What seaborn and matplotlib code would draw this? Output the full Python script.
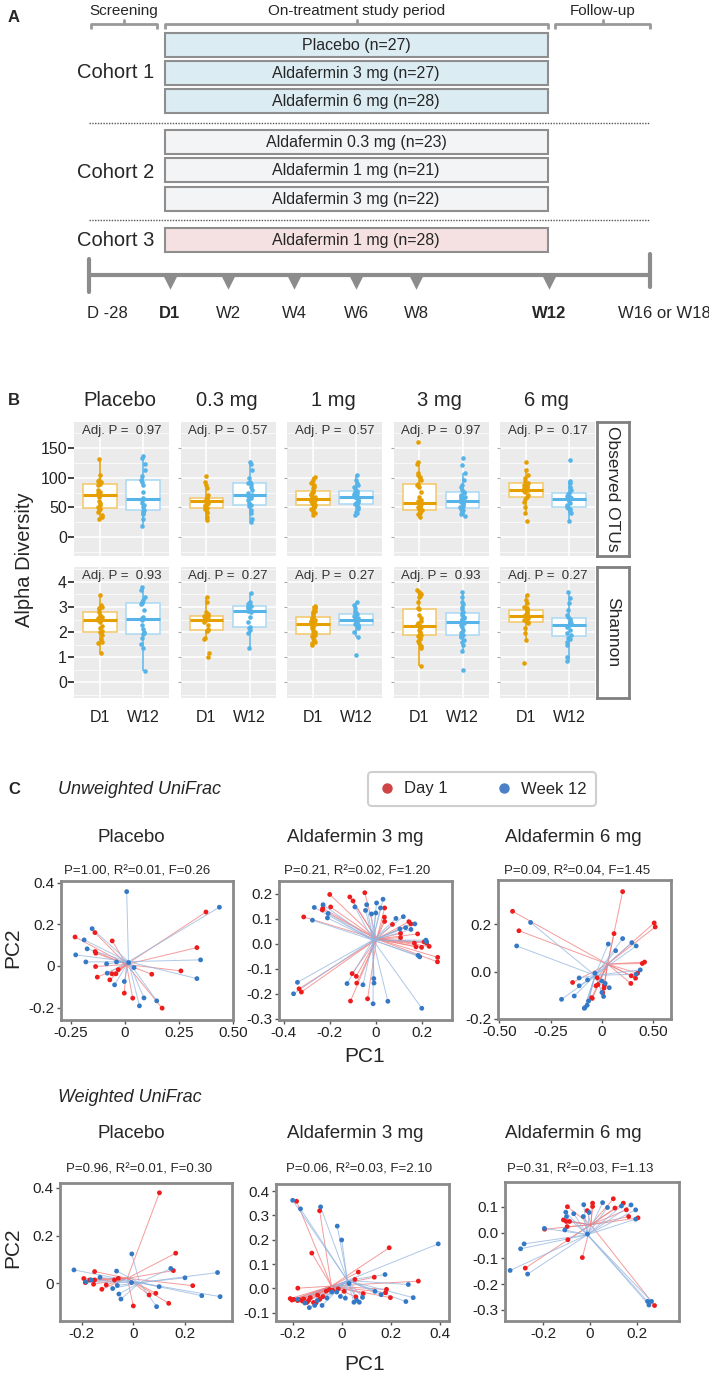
import numpy as np
import pandas as pd
import seaborn as sns
import matplotlib.pyplot as plt
from matplotlib.patches import Rectangle
from matplotlib.lines import Line2D
from matplotlib.ticker import MultipleLocator

sns.set_style('white')
plt.rcParams['font.family'] = ['Liberation Sans', 'DejaVu Sans']
NARROW = ['Liberation Sans Narrow', 'Liberation Sans', 'DejaVu Sans']

# ---------------- panel A: study design ----------------
phases = ['Screening', 'On-treatment study period', 'Follow-up']
arms = ['Placebo (n=27)', 'Aldafermin 3 mg (n=27)', 'Aldafermin 6 mg (n=28)',
        'Aldafermin 0.3 mg (n=23)', 'Aldafermin 1 mg (n=21)', 'Aldafermin 3 mg (n=22)',
        'Aldafermin 1 mg (n=28)']
arm_cohort = [1, 1, 1, 2, 2, 2, 3]
cohorts = ['Cohort 1', 'Cohort 2', 'Cohort 3']
visits = ['D -28', 'D1', 'W2', 'W4', 'W6', 'W8', 'W12', 'W16 or W18']
visit_bold = ['D1', 'W12']
dosing_visits = ['D1', 'W2', 'W4', 'W6', 'W8', 'W12']

# ---------------- panel B: alpha diversity ----------------
doses = ['Placebo', '0.3 mg', '1 mg', '3 mg', '6 mg']
times = ['D1', 'W12']
metrics = ['Observed OTUs', 'Shannon']
adj_p_otu = ['0.97', '0.57', '0.57', '0.97', '0.17']
adj_p_shannon = ['0.93', '0.27', '0.27', '0.93', '0.27']

otu_placebo_d1 = [131, 105, 97, 95, 93, 90, 88, 79, 76, 74, 72, 71, 68, 61, 57, 54, 50, 48, 46, 42, 37, 34, 31]
otu_placebo_w12 = [136, 133, 123, 113, 103, 96, 92, 88, 76, 66, 64, 62, 58, 54, 50, 45, 44, 41, 38, 31, 18]
otu_03_d1 = [103, 93, 88, 83, 71, 66, 65, 63, 62, 61, 60, 58, 56, 54, 50, 49, 48, 42, 40, 34, 29]
otu_03_w12 = [127, 123, 113, 100, 93, 91, 89, 85, 80, 75, 71, 70, 66, 62, 58, 54, 53, 45, 41, 31, 25]
otu_1_d1 = [102, 96, 93, 91, 87, 84, 82, 78, 76, 74, 72, 71, 68, 66, 65, 64, 63, 62, 61, 58, 57, 55, 54,
            51, 50, 48, 45, 42, 40, 37]
otu_1_w12 = [105, 96, 91, 88, 85, 82, 78, 76, 74, 72, 71, 70, 69, 68, 67, 65, 63, 62, 59, 57, 56, 55, 50,
             48, 42, 40, 37]
otu_3_d1 = [161, 127, 124, 108, 105, 102, 96, 90, 88, 85, 76, 68, 62, 60, 58, 57, 55, 53, 51, 50, 48, 46,
            45, 44, 42, 40, 38, 37, 34]
otu_3_w12 = [133, 122, 108, 96, 88, 85, 80, 76, 74, 71, 70, 68, 66, 64, 62, 61, 60, 59, 57, 55, 52, 50,
             48, 46, 45, 44, 42, 40, 38, 35]
otu_6_d1 = [127, 113, 105, 99, 95, 91, 88, 86, 85, 82, 80, 79, 78, 76, 71, 68, 64, 59, 51, 40, 27]
otu_6_w12 = [130, 95, 91, 85, 79, 74, 72, 70, 68, 66, 65, 64, 62, 60, 58, 54, 50, 49, 48, 44, 40, 27]

sh_placebo_d1 = [3.47, 3.08, 3.0, 2.95, 2.9, 2.81, 2.68, 2.62, 2.57, 2.55, 2.5, 2.42, 2.26, 2.15, 2.05,
                 2.02, 1.89, 1.73, 1.62, 1.58, 1.16]
sh_placebo_w12 = [3.8, 3.67, 3.4, 3.27, 3.2, 3.15, 3.1, 2.88, 2.6, 2.55, 2.5, 2.28, 2.13, 2.02, 1.95,
                  1.91, 1.76, 1.52, 1.36, 0.44]
sh_03_d1 = [3.4, 3.2, 2.81, 2.71, 2.66, 2.64, 2.6, 2.56, 2.53, 2.52, 2.48, 2.42, 2.3, 2.12, 2.09, 2.05,
            1.76, 1.73, 1.16, 1.03]
sh_03_w12 = [3.54, 3.2, 3.15, 3.1, 3.05, 3.0, 2.94, 2.88, 2.84, 2.81, 2.61, 2.42, 2.2, 2.15, 2.09, 1.95, 1.36]
sh_1_d1 = [3.05, 2.98, 2.94, 2.85, 2.81, 2.75, 2.68, 2.62, 2.57, 2.5, 2.48, 2.45, 2.42, 2.39, 2.35, 2.31,
           2.25, 2.22, 2.15, 2.09, 2.0, 1.95, 1.9, 1.89, 1.85, 1.78, 1.7, 1.62, 1.55, 1.49]
sh_1_w12 = [3.18, 3.08, 2.94, 2.85, 2.81, 2.75, 2.71, 2.65, 2.61, 2.57, 2.52, 2.5, 2.48, 2.45, 2.42, 2.38,
            2.33, 2.28, 2.26, 2.2, 2.15, 2.02, 1.82, 1.1]
sh_3_d1 = [3.67, 3.6, 3.54, 3.5, 3.45, 3.4, 3.2, 2.94, 2.9, 2.68, 2.55, 2.45, 2.35, 2.3, 2.25, 2.24, 2.2,
           2.15, 2.1, 2.02, 1.95, 1.89, 1.86, 1.8, 1.73, 1.65, 1.56, 1.45, 1.36, 0.67]
sh_3_w12 = [3.6, 3.4, 3.2, 3.1, 3.01, 2.9, 2.81, 2.75, 2.68, 2.6, 2.55, 2.52, 2.5, 2.42, 2.35, 2.3, 2.22,
            2.1, 2.02, 1.95, 1.89, 1.86, 1.8, 1.69, 1.6, 1.49, 1.23, 0.5]
sh_6_d1 = [3.47, 3.27, 3.14, 3.01, 2.95, 2.9, 2.88, 2.8, 2.75, 2.68, 2.65, 2.61, 2.58, 2.55, 2.48, 2.42,
           2.39, 2.35, 2.15, 1.95, 1.69, 0.77]
sh_6_w12 = [3.6, 3.34, 3.14, 2.88, 2.68, 2.61, 2.52, 2.45, 2.42, 2.38, 2.35, 2.3, 2.28, 2.2, 2.09, 1.95,
            1.89, 1.78, 1.73, 1.6, 1.49, 1.03, 0.86]

# ---------------- panel C: PCoA (PC1, PC2) ----------------
pcoa_titles = ['Placebo', 'Aldafermin 3 mg', 'Aldafermin 6 mg']
unw_stats = ['P=1.00, R²=0.01, F=0.26', 'P=0.21, R²=0.02, F=1.20', 'P=0.09, R²=0.04, F=1.45']
w_stats = ['P=0.96, R²=0.01, F=0.30', 'P=0.06, R²=0.03, F=2.10', 'P=0.31, R²=0.03, F=1.13']

unw_placebo_d1 = [(0.375, 0.259), (0.333, 0.088), (0.259, -0.024), (0.124, -0.040), (0.172, -0.203),
                  (0.036, -0.155), (-0.003, -0.131), (-0.070, -0.067), (-0.060, -0.038), (-0.042, -0.038),
                  (-0.031, -0.018), (-0.128, -0.054), (-0.136, -0.003), (-0.135, 0.061), (-0.138, 0.069),
                  (-0.139, 0.16), (-0.231, 0.139), (-0.059, 0.12)]
unw_placebo_w12 = [(0.008, 0.357), (0.437, 0.282), (-0.152, 0.179), (-0.189, 0.125), (-0.175, 0.082),
                   (-0.228, 0.053), (-0.181, 0.019), (-0.085, 0.010), (-0.039, 0.019), (-0.082, -0.035),
                   (-0.048, -0.091), (-0.003, -0.075), (0.042, -0.008), (0.017, 0.016), (0.088, -0.154),
                   (0.067, -0.192), (0.147, -0.168), (0.35, 0.029), (0.333, -0.061)]
unw_3mg_d1 = [(-0.2, 0.198), (-0.196, 0.148), (-0.23, 0.143), (-0.232, 0.136), (-0.313, 0.108),
              (-0.333, -0.18), (-0.323, -0.193), (-0.113, 0.188), (-0.099, 0.172), (-0.103, -0.119),
              (-0.085, -0.13), (-0.083, -0.157), (-0.11, -0.229), (-0.048, 0.205), (0.038, 0.144),
              (0.037, 0.107), (0.038, 0.09), (0.072, 0.078), (0.143, 0.089), (0.152, 0.08), (0.107, 0.042),
              (0.107, 0.025), (0.167, 0.003), (0.181, 0.04), (0.209, 0.008), (0.22, 0.003), (0.231, -0.01),
              (0.174, -0.012), (0.198, -0.014), (0.268, -0.054), (0.267, -0.072), (-0.036, -0.22)]
unw_3mg_w12 = [(-0.267, 0.146), (-0.229, 0.157), (-0.207, 0.122), (-0.21, 0.104), (-0.275, 0.095),
               (-0.34, -0.154), (-0.357, -0.2), (-0.125, -0.159), (-0.091, 0.148), (-0.04, 0.157),
               (0.003, 0.164), (0.031, 0.179), (-0.045, 0.134), (0.0, 0.124), (0.02, 0.144), (-0.019, 0.12),
               (0.087, 0.102), (0.119, 0.109), (0.104, 0.06), (0.129, 0.065), (0.152, 0.058), (0.169, 0.08),
               (0.217, 0.015), (0.22, 0.008), (0.183, -0.046), (0.19, -0.052), (-0.009, -0.139),
               (-0.008, -0.157), (-0.056, -0.164), (-0.012, -0.24), (0.052, -0.23), (0.199, -0.258)]
unw_6mg_d1 = [(-0.436, 0.254), (-0.405, 0.172), (0.101, 0.337), (0.059, 0.16), (0.255, 0.205), (0.26, 0.188),
              (0.208, 0.04), (0.197, 0.034), (0.174, -0.007), (0.164, -0.028), (0.143, -0.018), (0.141, -0.05),
              (-0.143, -0.046), (-0.029, -0.06), (-0.023, -0.026), (-0.019, -0.055), (0.01, -0.07),
              (-0.05, -0.11), (-0.047, -0.113), (0.004, -0.089), (0.012, -0.059)]
unw_6mg_w12 = [(-0.348, 0.207), (-0.416, 0.108), (0.031, 0.116), (0.067, 0.088), (0.101, 0.139),
               (0.146, 0.122), (0.167, 0.108), (0.187, 0.007), (0.167, -0.011), (-0.111, -0.027),
               (-0.111, -0.06), (-0.07, -0.035), (-0.034, -0.007), (0.0, -0.04), (0.016, -0.05),
               (0.036, -0.068), (0.0, -0.088), (0.008, -0.105), (-0.197, -0.117), (-0.135, -0.103),
               (-0.065, -0.124), (-0.072, -0.142), (-0.083, -0.152), (-0.086, -0.155)]

w_placebo_d1 = [(0.101, 0.379), (0.164, 0.126), (0.155, 0.053), (0.23, -0.01), (0.137, -0.084), (0.087, -0.042),
                (0.061, -0.049), (0.0, -0.095), (-0.058, 0.021), (-0.073, 0.014), (-0.105, -0.007),
                (-0.122, -0.025), (-0.15, 0.049), (-0.15, 0.014), (-0.154, -0.004), (-0.169, 0.014),
                (-0.192, 0.02), (-0.186, 0.003)]
w_placebo_w12 = [(-0.006, 0.123), (0.145, 0.062), (0.2, 0.023), (0.326, 0.045), (0.336, -0.056),
                 (0.265, -0.052), (0.1, -0.014), (0.09, -0.098), (-0.048, -0.066), (-0.056, -0.045),
                 (-0.062, -0.009), (-0.065, 0.051), (-0.08, -0.022), (-0.129, 0.025), (-0.163, 0.014),
                 (-0.183, 0.006), (-0.23, 0.056), (-0.007, 0.003)]
w_3mg_d1 = [(-0.184, 0.358), (-0.09, 0.319), (-0.122, 0.145), (-0.179, 0.001), (-0.21, -0.042), (-0.203, -0.048),
            (-0.195, -0.045), (-0.18, -0.05), (-0.168, -0.047), (-0.155, -0.043), (-0.142, -0.058),
            (-0.128, -0.038), (-0.115, -0.058), (-0.098, -0.028), (-0.09, -0.045), (-0.077, -0.034),
            (-0.063, -0.011), (-0.05, -0.005), (-0.037, -0.007), (-0.014, -0.002), (0.01, -0.012),
            (0.068, 0.067), (0.054, 0.037), (0.194, 0.167), (0.133, 0.046), (0.313, 0.03), (0.183, -0.004),
            (0.179, -0.018), (0.199, -0.038), (0.088, -0.021), (0.058, -0.035), (-0.16, -0.052),
            (-0.135, -0.05), (-0.105, -0.06)]
w_3mg_w12 = [(-0.2, 0.362), (-0.168, 0.327), (-0.086, 0.335), (-0.018, 0.256), (0.0, 0.199), (-0.179, -0.045),
             (-0.132, -0.079), (-0.11, -0.07), (-0.08, -0.07), (-0.06, -0.04), (-0.04, -0.015), (-0.02, -0.015),
             (-0.005, -0.033), (0.015, -0.04), (0.394, 0.183), (0.177, 0.057), (0.272, 0.016), (0.292, -0.038),
             (0.262, -0.054), (0.136, -0.012), (0.161, -0.026), (0.085, -0.037), (0.061, -0.049),
             (0.072, -0.057), (0.05, -0.057), (-0.15, -0.06), (-0.1, -0.05), (0.03, 0.02)]
w_6mg_d1 = [(-0.097, 0.1), (-0.012, 0.085), (0.011, 0.114), (0.011, 0.101), (0.1, 0.131), (0.143, 0.114),
            (0.107, 0.095), (0.156, 0.088), (0.166, 0.062), (0.206, 0.057), (-0.114, 0.049), (-0.102, 0.043),
            (-0.088, 0.043), (-0.098, 0.023), (-0.195, 0.013), (-0.095, -0.028), (-0.033, -0.097),
            (-0.278, -0.138), (0.277, -0.283)]
w_6mg_w12 = [(-0.104, 0.079), (-0.101, 0.062), (-0.07, 0.073), (-0.027, 0.108), (-0.004, 0.078), (0.054, 0.116),
             (0.075, 0.097), (0.135, 0.103), (0.176, 0.107), (0.196, 0.088), (0.196, 0.052), (-0.029, 0.062),
             (-0.108, 0.01), (-0.196, 0.016), (-0.283, -0.044), (-0.298, -0.063), (-0.343, -0.147),
             (-0.268, -0.161), (0.247, -0.267), (0.253, -0.281), (0.264, -0.267), (-0.011, -0.006)]

W, H = 709, 1379
fig = plt.figure(figsize=(W / 100, H / 100), dpi=100)


def px_axes(l, t, r, b):
    return fig.add_axes([l / W, 1 - b / H, (r - l) / W, (b - t) / H])


def ftext(x, y, s, **kw):
    fig.text(x / W, 1 - y / H, s, **kw)


# ===== A =====
axA = px_axes(0, 0, W, 330)
axA.set_xlim(0, W)
axA.set_ylim(330, 0)
axA.axis('off')
ftext(8, 17, 'A', fontsize=12, fontweight='bold', va='center')
grey = '#999999'
for name, (x0, x1) in zip(phases, [(91, 157), (165, 548), (555, 650)]):
    axA.plot([x0, x0, x1, x1], [29, 24, 24, 29], color=grey, lw=2, solid_capstyle='butt')
    xm = (x0 + x1) / 2
    axA.plot([xm, xm], [24, 20], color=grey, lw=2)
    axA.text(xm, 11, name, ha='center', va='center', fontsize=11, family=NARROW)

fills = {1: '#DCECF3', 2: '#F3F4F6', 3: '#F6E1E2'}
for label, coh, top in zip(arms, arm_cohort, [33, 61, 89, 130, 158, 187, 228]):
    axA.add_patch(Rectangle((165, top), 383, 24, facecolor=fills[coh], edgecolor='#8E8E8E', lw=1.5))
    axA.text(356, top + 12.5, label, ha='center', va='center', fontsize=11.5, family=NARROW)
for y in [123, 220]:
    axA.plot([89, 650], [y, y], color='#555555', lw=1, ls=(0, (1, 1)))
for name, y in zip(cohorts, [73, 172, 240]):
    axA.text(116, y, name, ha='center', va='center', fontsize=14.5, family=NARROW)

axA.plot([89, 650], [275, 275], color='#8C8C8C', lw=3, solid_capstyle='butt')
axA.plot([89, 89], [259, 292], color='#8C8C8C', lw=3)
axA.plot([650, 650], [254, 287], color='#8C8C8C', lw=3)
visit_x = dict(zip(visits, [107, 170, 228, 294, 356, 416, 549, 664]))
axA.scatter([visit_x[v] for v in dosing_visits], [282] * len(dosing_visits), marker='v', s=110,
            color='#8C8C8C', linewidths=0, zorder=3)
for v in visits:
    axA.text(visit_x[v], 313, v, ha='center', va='center', fontsize=12, family=NARROW,
             fontweight='bold' if v in visit_bold else 'normal')

# ===== B =====
otu_groups = [(otu_placebo_d1, otu_placebo_w12), (otu_03_d1, otu_03_w12), (otu_1_d1, otu_1_w12),
              (otu_3_d1, otu_3_w12), (otu_6_d1, otu_6_w12)]
sh_groups = [(sh_placebo_d1, sh_placebo_w12), (sh_03_d1, sh_03_w12), (sh_1_d1, sh_1_w12),
             (sh_3_d1, sh_3_w12), (sh_6_d1, sh_6_w12)]
rows = []
for metric, groups in zip(metrics, [otu_groups, sh_groups]):
    for dose, (d1, w12) in zip(doses, groups):
        rows += [(metric, dose, 'D1', v) for v in d1]
        rows += [(metric, dose, 'W12', v) for v in w12]
alpha_df = pd.DataFrame(rows, columns=['metric', 'dose', 'time', 'value'])

time_col = {'D1': '#E69F00', 'W12': '#56B4E9'}
time_light = {'D1': '#F3C766', 'W12': '#A9D8F3'}
ftext(8, 400, 'B', fontsize=12, fontweight='bold', va='center')
col_left = [74, 180.5, 287, 393.5, 500]
row_span = {'Observed OTUs': (422, 556), 'Shannon': (567, 698)}
y_setup = {'Observed OTUs': ((-32, 194), [0, 50, 100, 150], 25, 178),
           'Shannon': ((-0.62, 4.59), [0, 1, 2, 3, 4], 0.5, 4.22)}
adj_p = {'Observed OTUs': adj_p_otu, 'Shannon': adj_p_shannon}

for j, dose in enumerate(doses):
    ftext(col_left[j] + 46, 401, dose, ha='center', va='center', fontsize=14.5)
for metric in metrics:
    top, bot = row_span[metric]
    ylim, yt, minor, ptext = y_setup[metric]
    for j, dose in enumerate(doses):
        ax = px_axes(col_left[j], top, col_left[j] + 95, bot)
        for t in times:
            sub = alpha_df[(alpha_df.metric == metric) & (alpha_df.dose == dose) & (alpha_df.time == t)]
            n0 = len(ax.patches)
            sns.boxplot(data=sub, x='time', y='value', order=times, color='white', linecolor=time_col[t],
                        fill=True, width=0.78, showcaps=False, showfliers=False, linewidth=1.1,
                        medianprops={'linewidth': 2.2}, ax=ax)
            for p in ax.patches[n0:]:
                p.set_edgecolor(time_light[t])
                p.set_zorder(2)
            sns.stripplot(data=sub, x='time', y='value', order=times, color=time_col[t], size=3.3,
                          jitter=0.05, linewidth=0, ax=ax, zorder=3)
        ax.set_xlim(-0.6, 1.6)
        ax.set_ylim(*ylim)
        ax.set_yticks(yt)
        ax.yaxis.set_minor_locator(MultipleLocator(minor))
        ax.set_facecolor('#EBEBEB')
        ax.set_axisbelow(True)
        ax.grid(True, which='major', color='white', lw=1.1)
        ax.grid(True, which='minor', axis='y', color='white', lw=0.5)
        for s in ax.spines.values():
            s.set_visible(False)
        ax.set_xlabel('')
        ax.set_ylabel('')
        ax.text(0.5, ptext, 'Adj. P =  ' + adj_p[metric][j], ha='center', va='center', fontsize=9.5,
                color='#333333')
        ax.tick_params(axis='x', length=0, pad=9, labelsize=11.5, labelcolor='#222222',
                       labelbottom=(metric == 'Shannon'))
        ax.tick_params(axis='y', which='minor', length=0)
        if j == 0:
            ax.tick_params(axis='y', left=True, length=4, width=1.3, color='#333333', pad=1,
                           labelsize=11.5, labelcolor='#222222')
        else:
            ax.tick_params(axis='y', left=True, length=2, width=0.8, color='#AAAAAA', labelleft=False)
    axs = px_axes(597, top, 629, bot)
    axs.set_xticks([])
    axs.set_yticks([])
    for s in axs.spines.values():
        s.set_color('#808080')
        s.set_linewidth(2)
    axs.text(0.5, 0.5, metric, rotation=-90, ha='center', va='center', fontsize=12.5,
             transform=axs.transAxes)
ftext(24, 560, 'Alpha Diversity', rotation=90, ha='center', va='center', fontsize=14.5)

# ===== C =====
ftext(8, 789, 'C', fontsize=12, fontweight='bold', va='center')
ftext(58, 789, 'Unweighted UniFrac', fontsize=13, style='italic', va='center')
ftext(58, 1098, 'Weighted UniFrac', fontsize=13, style='italic', va='center')
day_col = {'Day 1': '#EE1C1C', 'Week 12': '#3479C6'}
spoke_col = {'Day 1': '#F27A7A', 'Week 12': '#93B5E0'}
leg = fig.legend(handles=[Line2D([], [], marker='o', ls='', color='#CF4444', markersize=6.5, label='Day 1'),
                          Line2D([], [], marker='o', ls='', color='#4A80C8', markersize=6.5, label='Week 12')],
                 loc='center', bbox_to_anchor=(482 / W, 1 - 789 / H), ncol=2, frameon=True, fancybox=True,
                 fontsize=12, handletextpad=0.4, columnspacing=2.8, borderpad=0.55, handlelength=1.2)
leg.get_frame().set_edgecolor('#C4C4C4')
leg.get_frame().set_linewidth(1.5)

pcoa_rows = [
    dict(groups=[(unw_placebo_d1, unw_placebo_w12), (unw_3mg_d1, unw_3mg_w12), (unw_6mg_d1, unw_6mg_w12)],
         stats=unw_stats, boxes=[(61, 881, 233, 1020), (279, 881, 452, 1020), (498, 880, 671, 1019)],
         title_y=837, stat_y=871, title_x=[131, 355, 573], stat_x=[137, 357, 577],
         xlims=[(-0.296, 0.5), (-0.42, 0.33), (-0.507, 0.337)],
         ylims=[(-0.26, 0.408), (-0.305, 0.252), (-0.2, 0.386)],
         xticks=[([-0.25, 0, 0.25, 0.5], ['-0.25', '0', '0.25', '0.50']),
                 ([-0.4, -0.2, 0, 0.2], ['-0.4', '-0.2', '0', '0.2']),
                 ([-0.5, -0.25, 0, 0.25], ['-0.50', '-0.25', '0', '0.50'])],
         yticks=[([-0.2, 0, 0.2, 0.4], ['-0.2', '0', '0.2', '0.4']),
                 ([-0.3, -0.2, -0.1, 0, 0.1, 0.2], ['-0.3', '-0.2', '-0.1', '0.0', '0.1', '0.2']),
                 ([-0.2, 0, 0.2], ['-0.2', '0.0', '0.2'])],
         pc2_y=948, pc1_y=1057),
    dict(groups=[(w_placebo_d1, w_placebo_w12), (w_3mg_d1, w_3mg_w12), (w_6mg_d1, w_6mg_w12)],
         stats=w_stats, boxes=[(60, 1183, 232, 1321), (276, 1184, 449, 1321), (505, 1182, 679, 1321)],
         title_y=1133, stat_y=1170, title_x=[131, 355, 573], stat_x=[139, 359, 580],
         xlims=[(-0.284, 0.382), (-0.268, 0.438), (-0.365, 0.382)],
         ylims=[(-0.158, 0.42), (-0.134, 0.429), (-0.343, 0.196)],
         xticks=[([-0.2, 0, 0.2], ['-0.2', '0', '0.2']),
                 ([-0.2, 0, 0.2, 0.4], ['-0.2', '0', '0.2', '0.4']),
                 ([-0.2, 0, 0.2], ['-0.2', '0', '0.2'])],
         yticks=[([0, 0.2, 0.4], ['0', '0.2', '0.4']),
                 ([-0.1, 0, 0.1, 0.2, 0.3, 0.4], ['-0.1', '0.0', '0.1', '0.2', '0.3', '0.4']),
                 ([-0.3, -0.2, -0.1, 0, 0.1], ['-0.3', '-0.2', '-0.1', '0.0', '0.1'])],
         pc2_y=1248, pc1_y=1365),
]

for prow in pcoa_rows:
    for k in range(3):
        ax = px_axes(*prow['boxes'][k])
        pts = []
        for lab, grp in zip(['Day 1', 'Week 12'], prow['groups'][k]):
            g = pd.DataFrame(grp, columns=['PC1', 'PC2'])
            g['visit'] = lab
            pts.append(g)
        pdf = pd.concat(pts, ignore_index=True)
        # spokes from each sample to its group centroid
        for lab in ['Day 1', 'Week 12']:
            g = pdf[pdf.visit == lab]
            cx, cy = g.PC1.mean(), g.PC2.mean()
            for x, y in zip(g.PC1, g.PC2):
                ax.plot([cx, x], [cy, y], color=spoke_col[lab], lw=0.7, alpha=0.75, zorder=1)
        sns.scatterplot(data=pdf, x='PC1', y='PC2', hue='visit', palette=day_col, s=12, linewidth=0,
                        legend=False, ax=ax, zorder=3)
        ax.set_xlim(*prow['xlims'][k])
        ax.set_ylim(*prow['ylims'][k])
        ax.set_xticks(prow['xticks'][k][0], prow['xticks'][k][1])
        ax.set_yticks(prow['yticks'][k][0], prow['yticks'][k][1])
        ax.set_xlabel('')
        ax.set_ylabel('')
        ax.tick_params(length=3, width=1, color='#555555', labelsize=11, pad=1.5, labelcolor='#222222',
                       bottom=True, left=True)
        for s in ax.spines.values():
            s.set_color('#8A8A8A')
            s.set_linewidth(2)
        ftext(prow['title_x'][k], prow['title_y'], pcoa_titles[k], ha='center', va='center', fontsize=13.5)
        ftext(prow['stat_x'][k], prow['stat_y'], prow['stats'][k], ha='center', va='center', fontsize=9.5)
    ftext(13, prow['pc2_y'], 'PC2', rotation=90, ha='center', va='center', fontsize=15)
    ftext(365, prow['pc1_y'], 'PC1', ha='center', va='center', fontsize=15)

fig.savefig('out.png', dpi=100)
